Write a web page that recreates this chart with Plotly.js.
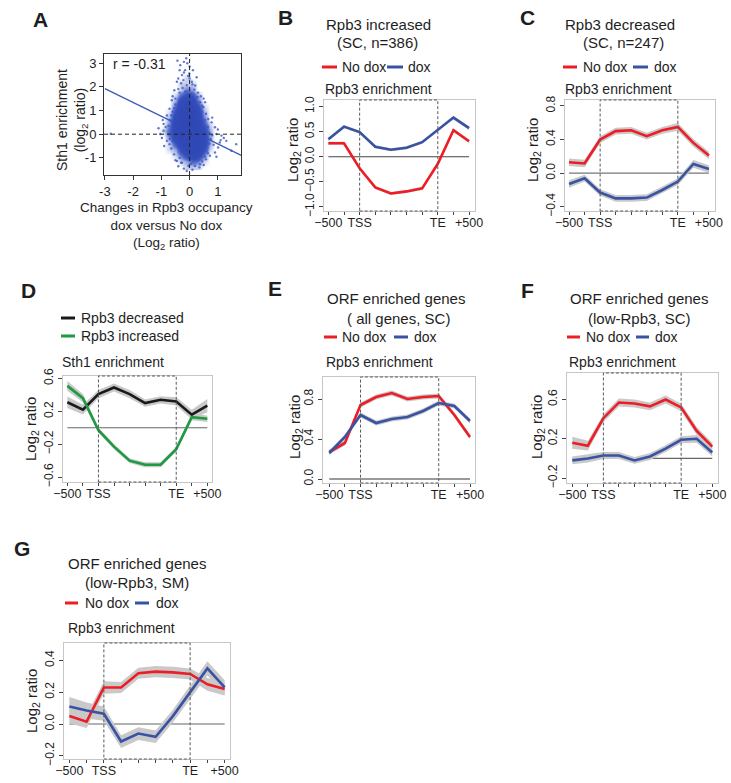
<!DOCTYPE html>
<html><head><meta charset="utf-8">
<script src="https://cdn.plot.ly/plotly-3.0.1.min.js"></script>
<style>html,body{margin:0;padding:0;background:#fff}#chart{width:731px;height:783px}</style>
</head><body><div id="chart"></div>
<script>
// ================= DATA =================
// Panel A: scatter of Sth1 enrichment vs change in Rpb3 occupancy
// dense core given as a density grid
const densX = [-1.1,-0.9,-0.7,-0.5,-0.3,-0.1,0.1,0.3,0.5,0.7,0.9,1.1];
const densY = [-1.375,-1.125,-0.875,-0.625,-0.375,-0.125,0.125,0.375,0.625,0.875,1.125,1.375,1.625,1.875,2.125,2.375,2.625,2.875,3.125];
const densZ = [
  [0,0,0,0,0,1,1,1,0,0,0,0],
  [0,0,0,0,1,2,4,3,1,0,0,0],
  [0,0,0,1,3,6,9,8,3,0,0,0],
  [0,0,1,2,6,9,10,10,6,1,0,0],
  [0,0,1,5,9,10,10,10,8,2,0,0],
  [0,0,3,8,10,10,10,10,8,2,0,0],
  [0,1,4,9,10,10,10,10,7,2,0,0],
  [0,0,3,9,10,10,10,10,5,1,0,0],
  [0,0,2,8,10,10,10,9,3,0,0,0],
  [0,0,1,6,10,10,10,8,2,0,0,0],
  [0,0,0,4,9,10,10,6,1,0,0,0],
  [0,0,0,2,7,9,8,3,0,0,0,0],
  [0,0,0,1,4,6,5,2,0,0,0,0],
  [0,0,0,0,1,3,2,0,0,0,0,0],
  [0,0,0,0,1,1,1,0,0,0,0,0],
  [0,0,0,0,0,1,0,0,0,0,0,0],
  [0,0,0,0,0,0,0,0,0,0,0,0],
  [0,0,0,0,0,0,0,0,0,0,0,0],
  [0,0,0,0,0,0,0,0,0,0,0,0]
];
// sparse outlying points
const sparseX = [-0.43,-0.33,-0.08,-0.16,-0.27,-0.01,-0.45,-0.22,0.08,-0.10,0.17,-0.54,0.28,0.37,-0.63,-0.71,0.49,0.58,-0.80,0.66,-0.92,0.78,0.90,-0.92,-1.04,0.95,1.13,1.21,1.07,1.30,-0.71,-0.80,1.01,0.90,0.72,0.58,-0.45,0.37,0.19,-0.04,-0.27,1.65,1.48,-0.98,-2.79,
  -0.60,-0.35,0.05,0.25,-0.50,0.45,-0.70,0.65,-0.85,0.75,0.85,-0.65,-0.55,0.60,0.45,-0.20,0.10,0.30,-0.35,0.70,-0.75,-0.60,0.40,-0.25,0.00,-0.12,-0.20,0.12,0.20,-0.40,1.00,1.10,0.95,-0.90,-1.10,-0.40,0.50,0.80,-0.95,0.55,
  -0.50,0.15,-0.15,0.30,-0.40,0.10,-0.30,-0.05,0.25,-0.35,0.00,-0.20,0.45,0.55,0.60,0.70,0.55,0.35,-0.10,-0.50,-0.70,-0.75,-0.65,-0.55,0.80,0.65,-0.30,0.05,-0.60,0.50];
const sparseY = [3.10,2.91,2.99,2.70,2.49,2.56,2.21,2.28,2.21,2.07,1.88,1.85,1.57,1.35,1.43,1.07,1.14,0.86,0.79,0.64,0.43,0.50,0.29,0.15,0.01,0.01,-0.06,-0.16,-0.35,-0.28,-0.42,-0.28,-0.56,-0.77,-0.91,-1.06,-1.13,-1.27,-1.34,-1.34,-1.20,-0.42,-0.70,-0.16,0.02,
  1.60,1.75,1.70,1.30,1.25,0.95,0.60,0.30,0.30,-0.20,-0.45,-0.60,-0.85,-0.70,-1.15,-1.45,-1.50,-1.10,-1.00,0.05,0.00,0.95,1.60,1.95,2.35,3.20,2.60,2.70,2.05,2.35,0.20,-0.25,-0.95,-0.50,0.25,-1.35,-1.30,0.70,0.60,1.35,
  1.50,1.55,1.80,1.75,1.90,2.10,2.15,2.45,2.40,2.70,2.85,3.05,1.20,0.60,0.15,-0.40,-0.95,-1.40,-1.55,-1.10,-0.20,0.35,0.80,1.10,-0.05,-0.80,-1.20,-1.25,-0.30,1.50];
const fitX = [-3.0, 1.83];
const fitY = [1.92, -0.89];
const corrText = 'r = -0.31';

// Profile panels: 10 bins from -500 to +500
const binPos = [0,1,2,3,4,5,6,7,8,9];
const binTickPos = [0,2,7,9];
const binTickText = ['\u2212500','TSS','TE','+500'];
const tssBin = 2, teBin = 7;

// B: Rpb3 increased (SC, n=386)
const bNoDox   = [0.27,0.27,-0.23,-0.61,-0.73,-0.69,-0.63,-0.14,0.53,0.31];
const bNoDoxSe = [0.035,0.03,0.03,0.03,0.03,0.03,0.03,0.03,0.035,0.035];
const bDox     = [0.35,0.60,0.49,0.20,0.14,0.18,0.29,0.53,0.78,0.57];
const bDoxSe   = [0.035,0.03,0.03,0.03,0.03,0.03,0.03,0.03,0.035,0.035];
// C: Rpb3 decreased (SC, n=247)
const cNoDox   = [0.13,0.115,0.40,0.50,0.51,0.44,0.51,0.55,0.36,0.21];
const cNoDoxSe = [0.045,0.045,0.04,0.04,0.04,0.04,0.04,0.045,0.045,0.045];
const cDox     = [-0.13,-0.06,-0.23,-0.30,-0.30,-0.29,-0.20,-0.10,0.11,0.05];
const cDoxSe   = [0.045,0.04,0.04,0.04,0.04,0.04,0.04,0.04,0.045,0.045];
// D: Sth1 enrichment
const dDecreased   = [0.31,0.22,0.41,0.49,0.41,0.30,0.34,0.32,0.16,0.27];
const dDecreasedSe = [0.07,0.06,0.05,0.05,0.05,0.045,0.045,0.05,0.06,0.08];
const dIncreased   = [0.51,0.36,-0.03,-0.23,-0.40,-0.45,-0.45,-0.26,0.13,0.11];
const dIncreasedSe = [0.06,0.05,0.03,0.03,0.03,0.03,0.03,0.03,0.04,0.04];
// E: ORF enriched genes (all genes, SC)
const eNoDox   = [0.27,0.36,0.74,0.82,0.86,0.80,0.82,0.83,0.64,0.42];
const eNoDoxSe = [0.025,0.025,0.025,0.025,0.025,0.025,0.025,0.025,0.025,0.025];
const eDox     = [0.26,0.42,0.64,0.56,0.60,0.62,0.68,0.76,0.73,0.58];
const eDoxSe   = [0.025,0.025,0.025,0.025,0.025,0.025,0.025,0.025,0.025,0.025];
// F: ORF enriched genes (low-Rpb3, SC)
const fNoDox   = [0.16,0.13,0.41,0.57,0.56,0.53,0.60,0.52,0.28,0.12];
const fNoDoxSe = [0.06,0.05,0.04,0.04,0.04,0.04,0.04,0.04,0.04,0.04];
const fDox     = [-0.02,0.00,0.03,0.03,-0.02,0.02,0.10,0.19,0.20,0.06];
const fDoxSe   = [0.04,0.04,0.035,0.035,0.035,0.035,0.035,0.035,0.04,0.04];
// G: ORF enriched genes (low-Rpb3, SM)
const gNoDox   = [0.05,0.015,0.23,0.23,0.32,0.33,0.325,0.315,0.25,0.22];
const gNoDoxSe = [0.045,0.04,0.04,0.035,0.035,0.035,0.035,0.035,0.04,0.04];
const gDox     = [0.11,0.085,0.065,-0.11,-0.06,-0.08,0.05,0.20,0.35,0.23];
const gDoxSe   = [0.06,0.05,0.045,0.04,0.04,0.04,0.04,0.04,0.045,0.045];

// ================= STYLE / LAYOUT =================
const W = 731, H = 783;
const FONT = 'Liberation Sans, Arial, Helvetica, sans-serif';
const TXT = '#1e1e1e';
const RED = '#ee1d25', BLUE = '#3953a4', GREEN = '#1e9a40', BLACK = '#1a1a1a';
const BAND = '#c9c9c9';
const px = v => v / W, py = v => 1 - v / H;

const traces = [];
const shapes = [];
const annotations = [];
const layout = {
  width: W, height: H, margin: {l:0, r:0, t:0, b:0},
  paper_bgcolor: '#fff', plot_bgcolor: '#fff', showlegend: false,
  font: {family: FONT, color: TXT}
};

function addText(text, x, y, size, opts) {
  annotations.push(Object.assign({
    text: text, xref: 'paper', yref: 'paper', x: px(x), y: py(y),
    xanchor: 'center', yanchor: 'middle', showarrow: false,
    font: {family: FONT, size: size, color: TXT}
  }, opts || {}));
}
function addLegendSeg(x0, x1, y, color) {
  shapes.push({type: 'line', xref: 'paper', yref: 'paper', x0: px(x0), x1: px(x1),
    y0: py(y), y1: py(y), line: {color: color, width: 3}});
}

// ---------- Panel A ----------
layout.xaxis = {
  domain: [px(104), px(241)], range: [-3.03, 1.82], anchor: 'y',
  tickmode: 'array', tickvals: [-3,-2,-1,0,1], ticktext: ['-3','-2','-1','0','1'],
  ticks: 'outside', ticklen: 4, tickcolor: '#333', showline: true, mirror: true,
  linecolor: '#333', linewidth: 1, showgrid: false, zeroline: false,
  tickfont: {size: 13, color: TXT}
};
layout.yaxis = {
  domain: [py(175), py(54)], range: [-1.72, 3.38], anchor: 'x',
  tickmode: 'array', tickvals: [-1,0,1,2,3], ticktext: ['-1','0','1','2','3'],
  ticks: 'outside', ticklen: 4, tickcolor: '#333', showline: true, mirror: true,
  linecolor: '#333', linewidth: 1, showgrid: false, zeroline: false,
  tickfont: {size: 13, color: TXT}
};
traces.push({
  type: 'heatmap', x: densX, y: densY, z: densZ, xaxis: 'x', yaxis: 'y',
  zmin: 0, zmax: 10, zsmooth: 'best', showscale: false, hoverinfo: 'skip',
  colorscale: [[0,'rgba(58,86,196,0)'],[0.1,'rgba(58,86,196,0.3)'],[0.3,'rgba(56,84,194,0.85)'],
               [0.5,'rgba(52,78,188,1)'],[1,'rgba(48,72,182,1)']]
});
traces.push({
  type: 'scatter', mode: 'markers', x: sparseX, y: sparseY, xaxis: 'x', yaxis: 'y',
  marker: {size: 2.4, color: 'rgba(58,86,196,0.8)'}, hoverinfo: 'skip'
});
shapes.push({type: 'line', xref: 'x', yref: 'y', x0: fitX[0], y0: fitY[0], x1: fitX[1], y1: fitY[1],
  line: {color: '#3d5bb5', width: 1.3}, layer: 'below'});
shapes.push({type: 'line', xref: 'x', yref: 'y domain', x0: 0, x1: 0, y0: 0, y1: 1,
  line: {color: '#222', width: 1, dash: '4px,3px'}});
shapes.push({type: 'line', xref: 'x domain', yref: 'y', x0: 0, x1: 1, y0: 0, y1: 0,
  line: {color: '#222', width: 1, dash: '4px,3px'}});
addText(corrText, 111, 64, 14, {xanchor: 'left'});
addText('Sth1 enrichment<br>(log<sub>2</sub> ratio)', 72, 120, 14, {textangle: -90});
addText('Changes in Rpb3 occupancy<br>dox versus No dox<br>(Log<sub>2</sub> ratio)', 166, 226, 13.5);
addText('<b>A</b>', 40.5, 19.5, 21);

// ---------- Profile panels ----------
function band(mean, se, color, ax) {
  const upper = mean.map((v, i) => v + se[i]);
  const lower = mean.map((v, i) => v - se[i]).reverse();
  traces.push({type: 'scatter', mode: 'lines', x: binPos.concat(binPos.slice().reverse()),
    y: upper.concat(lower), fill: 'toself', fillcolor: BAND, line: {width: 0},
    xaxis: 'x' + ax, yaxis: 'y' + ax, hoverinfo: 'skip'});
}
function line(mean, color, ax) {
  traces.push({type: 'scatter', mode: 'lines', x: binPos, y: mean,
    line: {color: color, width: 2.6}, xaxis: 'x' + ax, yaxis: 'y' + ax, hoverinfo: 'skip'});
}
function profilePanel(p) {
  const ax = p.ax;
  layout['xaxis' + ax] = {
    domain: [px(p.box[0]), px(p.box[1])], range: p.xr, anchor: 'y' + ax,
    tickmode: 'array', tickvals: binTickPos, ticktext: binTickText,
    ticks: 'outside', ticklen: 3, tickcolor: '#444', showline: true, mirror: true,
    linecolor: '#c6c6c6', linewidth: 1, showgrid: false, zeroline: false,
    ticklabelstandoff: -3,
    tickfont: {size: 12.5, color: TXT},
    minor: {tickmode: 'array', tickvals: binPos, ticks: 'outside', ticklen: 3, tickcolor: '#444', showgrid: false}
  };
  layout['yaxis' + ax] = {
    domain: [py(p.box[3]), py(p.box[2])], range: p.yr, anchor: 'x' + ax,
    tickmode: 'array', tickvals: p.yt, tickformat: '.1f', tickangle: -90,
    ticks: 'outside', ticklen: 4, tickcolor: '#444', showline: true, mirror: true,
    linecolor: '#c6c6c6', linewidth: 1, showgrid: false, zeroline: false,
    tickfont: {size: 12, color: TXT}
  };
  p.series.forEach(s => band(s.mean, s.se, s.color, ax));
  p.series.forEach(s => line(s.mean, s.color, ax));
  shapes.push({type: 'line', xref: 'x' + ax, yref: 'y' + ax, x0: binPos[0], x1: binPos[binPos.length - 1],
    y0: 0, y1: 0, line: {color: p.zeroColor, width: p.zeroWidth}, layer: 'below'});
  shapes.push({type: 'rect', xref: 'x' + ax, yref: 'y' + ax + ' domain', x0: tssBin, x1: teBin, y0: 0, y1: 1,
    line: {color: '#5a5a5a', width: 1, dash: '3px,2px'}, fillcolor: 'rgba(0,0,0,0)'});
  addText('Log<sub>2</sub> ratio', p.ytitle[0], p.ytitle[1], 15, {textangle: -90});
  addText(p.sub, p.subPos[0], p.subPos[1], 14, {xanchor: 'left'});
  p.titles.forEach(t => addText(t[0], t[1], t[2], 15));
  p.legend.forEach(l => {
    addLegendSeg(l.seg[0], l.seg[1], l.y, l.color);
    addText(l.text, l.tx, l.y, 14, {xanchor: 'left'});
  });
  addText('<b>' + p.letter + '</b>', p.letterPos[0], p.letterPos[1], 21);
}

profilePanel({
  ax: 2, letter: 'B', letterPos: [285, 18], box: [324, 475, 100, 211],
  xr: [-0.28, 9.38], yr: [-1.08, 1.13], yt: [-1, -0.5, 0, 0.5, 1],
  series: [{mean: bNoDox, se: bNoDoxSe, color: RED}, {mean: bDox, se: bDoxSe, color: BLUE}],
  zeroColor: '#444', zeroWidth: 1,
  ytitle: [293, 150], sub: 'Rpb3 enrichment', subPos: [323, 89],
  titles: [['Rpb3 increased', 378, 24], ['(SC, n=386)', 377, 43]],
  legend: [{seg: [322, 337], y: 67, color: RED, text: 'No dox', tx: 340},
           {seg: [387, 403], y: 67, color: BLUE, text: 'dox', tx: 406}]
});
profilePanel({
  ax: 3, letter: 'C', letterPos: [527, 18], box: [565, 715, 100, 211],
  xr: [-0.26, 9.39], yr: [-0.45, 0.87], yt: [-0.4, 0, 0.4, 0.8],
  series: [{mean: cNoDox, se: cNoDoxSe, color: RED}, {mean: cDox, se: cDoxSe, color: BLUE}],
  zeroColor: '#777', zeroWidth: 1.3,
  ytitle: [533, 150], sub: 'Rpb3 enrichment', subPos: [563, 89],
  titles: [['Rpb3 decreased', 620, 24], ['(SC, n=247)', 623, 43]],
  legend: [{seg: [563, 577], y: 67, color: RED, text: 'No dox', tx: 581},
           {seg: [633, 648], y: 67, color: BLUE, text: 'dox', tx: 652}]
});
profilePanel({
  ax: 4, letter: 'D', letterPos: [28.5, 290], box: [63, 212, 376, 482],
  xr: [-0.28, 9.3], yr: [-0.66, 0.63], yt: [-0.6, -0.2, 0.2, 0.6],
  series: [{mean: dDecreased, se: dDecreasedSe, color: BLACK}, {mean: dIncreased, se: dIncreasedSe, color: GREEN}],
  zeroColor: '#666', zeroWidth: 1.2,
  ytitle: [32, 429], sub: 'Sth1 enrichment', subPos: [60, 362],
  titles: [],
  legend: [{seg: [61, 75], y: 318, color: BLACK, text: 'Rpb3 decreased', tx: 79},
           {seg: [61, 75], y: 336, color: GREEN, text: 'Rpb3 increased', tx: 79}]
});
profilePanel({
  ax: 5, letter: 'E', letterPos: [274.5, 289], box: [323, 475, 377, 483],
  xr: [-0.4, 9.32], yr: [-0.04, 1.02], yt: [0, 0.4, 0.8],
  series: [{mean: eNoDox, se: eNoDoxSe, color: RED}, {mean: eDox, se: eDoxSe, color: BLUE}],
  zeroColor: '#999', zeroWidth: 1.8,
  ytitle: [295, 427], sub: 'Rpb3 enrichment', subPos: [324, 362],
  titles: [['ORF enriched genes', 396, 298], ['( all genes, SC)', 398.5, 318]],
  legend: [{seg: [324, 337], y: 337, color: RED, text: 'No dox', tx: 340},
           {seg: [394, 408], y: 337, color: BLUE, text: 'dox', tx: 412}]
});
profilePanel({
  ax: 6, letter: 'F', letterPos: [527.5, 290], box: [567, 718, 373, 483],
  xr: [-0.34, 9.37], yr: [-0.25, 0.87], yt: [-0.2, 0.2, 0.6],
  series: [{mean: fNoDox, se: fNoDoxSe, color: RED}, {mean: fDox, se: fDoxSe, color: BLUE}],
  zeroColor: '#666', zeroWidth: 1.2,
  ytitle: [537, 427], sub: 'Rpb3 enrichment', subPos: [567, 362],
  titles: [['ORF enriched genes', 638.5, 298], ['(low-Rpb3, SC)', 639.5, 318]],
  legend: [{seg: [567, 580], y: 337, color: RED, text: 'No dox', tx: 584},
           {seg: [636, 649], y: 337, color: BLUE, text: 'dox', tx: 653}]
});
profilePanel({
  ax: 7, letter: 'G', letterPos: [22, 548], box: [64, 230, 643, 759],
  xr: [-0.31, 9.31], yr: [-0.22, 0.51], yt: [-0.2, 0, 0.2, 0.4],
  series: [{mean: gNoDox, se: gNoDoxSe, color: RED}, {mean: gDox, se: gDoxSe, color: BLUE}],
  zeroColor: '#999', zeroWidth: 1.6,
  ytitle: [32, 701], sub: 'Rpb3 enrichment', subPos: [66, 628],
  titles: [['ORF enriched genes', 137, 563], ['(low-Rpb3, SM)', 137, 582]],
  legend: [{seg: [65, 78], y: 603, color: RED, text: 'No dox', tx: 83},
           {seg: [135, 149], y: 603, color: BLUE, text: 'dox', tx: 154}]
});

layout.shapes = shapes;
layout.annotations = annotations;
Plotly.newPlot('chart', traces, layout, {staticPlot: true, displayModeBar: false});
</script>
</body></html>
